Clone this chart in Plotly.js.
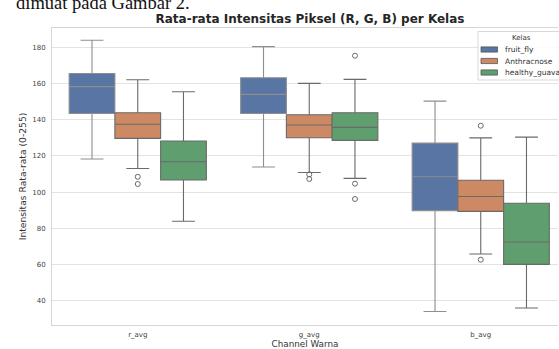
<!DOCTYPE html>
<html><head><meta charset="utf-8">
<script src="https://cdn.plot.ly/plotly-3.0.1.min.js"></script>
<style>html,body{margin:0;padding:0;background:#fff;overflow:hidden}#chart{width:559px;height:349px;}</style>
</head><body><div id="chart"></div>
<script>
// ---- data ----
const channels = ['r_avg', 'g_avg', 'b_avg'];
const classes = ['fruit_fly', 'Anthracnose', 'healthy_guava'];
const colors = ['#5975a4', '#cc8963', '#5f9e6e'];
const lineColors = ['#8e8e8e', '#6a6a6a', '#6a6a6a'];

// values per channel: r_avg, g_avg, b_avg
const fruitLower  = [118.3, 113.9, 34.1];
const fruitQ1     = [143.5, 143.5, 89.8];
const fruitMedian = [158.3, 154.0, 108.5];
const fruitQ3     = [165.6, 163.2, 127.1];
const fruitUpper  = [183.9, 180.4, 150.3];

const anthLower  = [113.1, 110.9, 65.8];
const anthQ1     = [129.7, 130.1, 89.4];
const anthMedian = [137.5, 137.1, 97.6];
const anthQ3     = [143.9, 142.8, 106.6];
const anthUpper  = [162.1, 160.1, 130.0];

const guavaLower  = [83.9, 107.6, 36.0];
const guavaQ1     = [106.7, 128.6, 60.1];
const guavaMedian = [116.8, 135.8, 72.5];
const guavaQ3     = [128.3, 143.9, 93.9];
const guavaUpper  = [155.5, 162.3, 130.4];

const fruitOutChannel = [];
const fruitOutValue = [];
const anthOutChannel = [0, 0, 1, 1, 2, 2];
const anthOutValue = [108.5, 104.5, 109.8, 107.3, 136.7, 62.7];
const guavaOutChannel = [1, 1, 1];
const guavaOutValue = [175.4, 104.7, 96.2];

const yTicks = [40, 60, 80, 100, 120, 140, 160, 180];

// ---- build ----
const stats = [
  {lo: fruitLower, q1: fruitQ1, med: fruitMedian, q3: fruitQ3, hi: fruitUpper, oc: fruitOutChannel, ov: fruitOutValue},
  {lo: anthLower, q1: anthQ1, med: anthMedian, q3: anthQ3, hi: anthUpper, oc: anthOutChannel, ov: anthOutValue},
  {lo: guavaLower, q1: guavaQ1, med: guavaMedian, q3: guavaQ3, hi: guavaUpper, oc: guavaOutChannel, ov: guavaOutValue}
];
const groupWidth = 0.8;
const bw = groupWidth / classes.length;
const traces = [];
classes.forEach((cls, i) => {
  const off = -groupWidth / 2 + bw * (i + 0.5);
  const s = stats[i];
  traces.push({
    type: 'box', name: cls, orientation: 'v',
    x: channels.map((c, j) => j + off),
    q1: s.q1, median: s.med, q3: s.q3, lowerfence: s.lo, upperfence: s.hi,
    width: bw, whiskerwidth: 0.5, boxpoints: false,
    fillcolor: colors[i], line: {color: lineColors[i], width: 1.1},
    showlegend: false, hoverinfo: 'skip'
  });
  if (s.ov.length) {
    traces.push({
      type: 'scatter', mode: 'markers', name: cls + ' outliers',
      x: s.oc.map(j => j + off), y: s.ov,
      marker: {symbol: 'circle-open', size: 5, color: '#6a6a6a', line: {width: 1, color: '#6a6a6a'}},
      showlegend: false, hoverinfo: 'skip'
    });
  }
});

// layout geometry (pixels)
const W = 559, H = 349, L = 52, R = 1, T = 28, B = 24;
const pw = W - L - R, ph = H - T - B;
const px = v => (v - L) / pw;
const py = v => (H - B - v) / ph;

const shapes = [];
const annotations = [];
// legend
shapes.push({type: 'rect', xref: 'paper', yref: 'paper', x0: px(478), x1: px(570), y0: py(80), y1: py(31.5),
  fillcolor: 'rgba(255,255,255,0.85)', line: {color: '#d8d8d8', width: 1}, layer: 'above'});
annotations.push({xref: 'paper', yref: 'paper', x: px(521), y: py(37.5), text: 'Kelas', showarrow: false,
  xanchor: 'center', yanchor: 'middle', font: {family: 'DejaVu Sans', size: 7, color: '#333'}});
const legY = [49.5, 61, 72.5];
classes.forEach((cls, i) => {
  shapes.push({type: 'rect', xref: 'paper', yref: 'paper', x0: px(481), x1: px(497.5), y0: py(legY[i] + 2.6), y1: py(legY[i] - 2.6),
    fillcolor: colors[i], line: {color: '#555', width: 0.8}, layer: 'above'});
  annotations.push({xref: 'paper', yref: 'paper', x: px(502.5), y: py(legY[i]), text: cls, showarrow: false,
    xanchor: 'left', yanchor: 'middle', font: {family: 'DejaVu Sans', size: 7.5, color: '#333'}});
});
// cropped body text at top (as in the reference)
annotations.push({xref: 'paper', yref: 'paper', x: px(14), y: py(15.5), text: 'dimuat pada Gambar 2.', showarrow: false,
  xanchor: 'left', yanchor: 'bottom', font: {family: 'Liberation Serif', size: 18.5, color: '#111'}});

const layout = {
  width: W, height: H,
  margin: {l: L, r: R, t: T, b: B, pad: 0},
  paper_bgcolor: '#fff', plot_bgcolor: '#fff',
  font: {family: 'DejaVu Sans', color: '#444'},
  title: {text: '<b>Rata-rata Intensitas Piksel (R, G, B) per Kelas</b>', x: 310 / W, xref: 'container', xanchor: 'center',
    y: 1 - 18.5 / H, yref: 'container', yanchor: 'middle', font: {family: 'DejaVu Sans', size: 12, color: '#262626'}},
  showlegend: false,
  xaxis: {
    range: [-0.5, -0.5 + pw / 171.5], tickvals: [0, 1, 2], ticktext: channels,
    showgrid: false, zeroline: false, showline: true, linecolor: '#d6d6d6', linewidth: 1, mirror: true,
    ticks: 'outside', ticklen: 3, tickcolor: 'rgba(0,0,0,0)', tickfont: {size: 7, color: '#444'},
    title: {text: 'Channel Warna', font: {size: 8.8, color: '#333'}, standoff: 5}
  },
  yaxis: {
    range: [26.6, 190.7], tickvals: yTicks, ticktext: yTicks.map(String),
    showgrid: true, gridcolor: '#e3e3e3', gridwidth: 1, zeroline: false,
    showline: true, linecolor: '#d6d6d6', linewidth: 1,
    ticks: 'outside', ticklen: 4, tickcolor: 'rgba(0,0,0,0)', tickfont: {size: 7, color: '#444'},
    title: {text: 'Intensitas Rata-rata (0-255)', font: {size: 9.2, color: '#333'}, standoff: 4}
  },
  shapes: shapes, annotations: annotations
};
Plotly.newPlot('chart', traces, layout, {staticPlot: true, displayModeBar: false});
</script></body></html>
